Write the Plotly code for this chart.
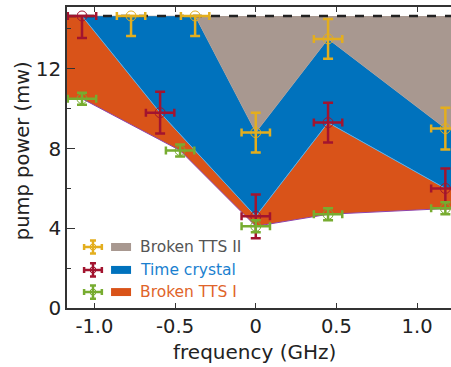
import plotly.graph_objects as go

# ---------------- data ----------------
freq_ii = [-0.773, -0.376, 0.0, 0.448, 1.175]      # Broken TTS II (yellow)
pow_ii = [14.65, 14.65, 8.8, 13.5, 9.0]
err_ii_minus = [1.0, 1.0, 1.0, 1.0, 1.05]
err_ii_plus = [0.0, 0.0, 1.0, 1.0, 1.05]

freq_tc = [-1.077, -0.593, 0.0, 0.448, 1.175]      # Time crystal (red)
pow_tc = [14.65, 9.8, 4.6, 9.3, 6.0]
err_tc_minus = [1.1, 1.05, 1.1, 1.0, 1.0]
err_tc_plus = [0.0, 1.05, 1.1, 1.0, 1.0]

freq_i = [-1.077, -0.469, 0.0, 0.448, 1.175]       # Broken TTS I (green)
pow_i = [10.5, 7.9, 4.1, 4.7, 5.0]
err_i = [0.3, 0.3, 0.3, 0.3, 0.3]

freq_err = 0.088
top_level = 14.65

x_ticks = [-1.0, -0.5, 0.0, 0.5, 1.0]
x_ticklabels = ["-1.0", "-0.5", "0", "0.5", "1.0"]
y_ticks = [0, 4, 8, 12]

legend_names = ["Broken TTS II", "Time crystal", "Broken TTS I"]

# ---------------- style ----------------
XMIN, XMAX = -1.17, 1.21
YMIN, YMAX = 0, 15.1
C_ORANGE = "#D95319"
C_BLUE = "#0072BD"
C_GREY = "#A89890"
C_YELLOW = "#E3AE1E"
C_RED = "#A2142F"
C_GREEN = "#77AC30"
FONT = "DejaVu Sans"


def ext(xs, ys):
    return [XMIN] + list(xs) + [XMAX], [ys[0]] + list(ys) + [ys[-1]]


fig = go.Figure()

gx, gy = ext(freq_i, pow_i)
rx, ry = ext(freq_tc, pow_tc)
yx, yy = ext(freq_ii, pow_ii)
tx, ty = [XMIN, XMAX], [top_level, top_level]

fig.add_trace(go.Scatter(x=gx, y=gy, mode="lines",
                         line=dict(color="#8E44AD", width=1), showlegend=False))
fig.add_trace(go.Scatter(x=rx, y=ry, mode="lines", fill="tonexty",
                         fillcolor=C_ORANGE, line=dict(color="#5FB0E6", width=1),
                         showlegend=False))
fig.add_trace(go.Scatter(x=yx, y=yy, mode="lines", fill="tonexty",
                         fillcolor=C_BLUE, line=dict(color=C_GREY, width=0.5),
                         showlegend=False))
fig.add_trace(go.Scatter(x=tx, y=ty, mode="lines", fill="tonexty",
                         fillcolor=C_GREY, line=dict(color="#222", width=2.5, dash="dash"),
                         showlegend=False))


def err_trace(xs, ys, yplus, yminus, color):
    return go.Scatter(
        x=xs, y=ys, mode="markers",
        marker=dict(symbol="circle-open", size=10, color=color, line=dict(width=1, color=color)),
        error_x=dict(type="constant", value=freq_err, color=color, thickness=2.5, width=4),
        error_y=dict(type="data", array=yplus, arrayminus=yminus, symmetric=False,
                     color=color, thickness=2.5, width=5),
        showlegend=False, cliponaxis=False)


fig.add_trace(err_trace(freq_ii, pow_ii, err_ii_plus, err_ii_minus, C_YELLOW))
fig.add_trace(err_trace(freq_tc, pow_tc, err_tc_plus, err_tc_minus, C_RED))
fig.add_trace(err_trace(freq_i, pow_i, err_i, err_i, C_GREEN))

# ---------------- manual legend ----------------
leg_colors = [C_YELLOW, C_RED, C_GREEN]
leg_fills = [C_GREY, C_BLUE, C_ORANGE]
leg_text_colors = ["#555555", "#1A7FCF", "#E0642A"]
leg_y = [3.06, 1.91, 0.80]
for name, c, fc, tc, ly in zip(legend_names, leg_colors, leg_fills, leg_text_colors, leg_y):
    fig.add_trace(go.Scatter(
        x=[-1.009], y=[ly], mode="markers",
        marker=dict(symbol="circle-open", size=6, color=c, line=dict(width=1, color=c)),
        error_x=dict(type="constant", value=0.055, color=c, thickness=2.5, width=3),
        error_y=dict(type="constant", value=0.33, color=c, thickness=2.5, width=3),
        showlegend=False, hoverinfo="skip"))
    fig.add_shape(type="rect", xref="x", yref="y", x0=-0.897, x1=-0.773,
                  y0=ly - 0.2, y1=ly + 0.2, fillcolor=fc, line=dict(width=0))
    fig.add_annotation(x=-0.728, y=ly, xref="x", yref="y", text=name, showarrow=False,
                       xanchor="left", yanchor="middle",
                       font=dict(family=FONT, size=15.5, color=tc))

# axis titles
fig.add_annotation(x=0.488, y=-0.146, xref="paper", yref="paper", text="frequency (GHz)",
                   showarrow=False, xanchor="center", yanchor="middle",
                   font=dict(family=FONT, size=20, color="#222"))
fig.add_annotation(x=-0.114, y=0.5216, xref="paper", yref="paper", text="pump power (mw)",
                   showarrow=False, xanchor="center", yanchor="middle", textangle=-90,
                   font=dict(family=FONT, size=19.5, color="#222"))

fig.update_layout(
    width=451, height=367,
    margin=dict(l=67, r=0, t=7, b=59),
    paper_bgcolor="white", plot_bgcolor="white",
    font=dict(family=FONT, size=20, color="#222"),
    xaxis=dict(range=[XMIN, XMAX], tickvals=x_ticks, ticktext=x_ticklabels,
               ticks="inside", ticklen=5, tickwidth=1.2, tickcolor="#333",
               showline=True, linecolor="#333", linewidth=1.5, mirror="ticks",
               showgrid=False, zeroline=False,
               tickfont=dict(family=FONT, size=19.5, color="#222")),
    yaxis=dict(range=[YMIN, YMAX], tickvals=y_ticks,
               ticks="inside", ticklen=8, tickwidth=1.2, tickcolor="#333",
               minor=dict(dtick=2, tick0=0, ticks="inside", ticklen=4, tickcolor="#333"),
               showline=True, linecolor="#333", linewidth=1.5, mirror=False,
               showgrid=False, zeroline=False,
               tickfont=dict(family=FONT, size=20, color="#222")),
)

fig.write_html("out.html")
